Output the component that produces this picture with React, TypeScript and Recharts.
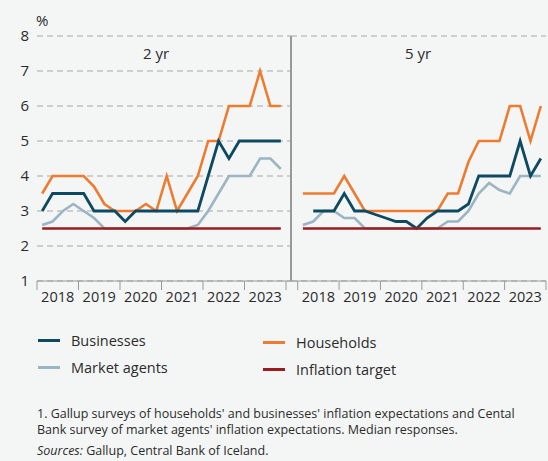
import { LineChart, Line, XAxis, YAxis, CartesianGrid } from 'recharts';

const years = ['2018', '2019', '2020', '2021', '2022', '2023'];
const yTicks = [1, 2, 3, 4, 5, 6, 7, 8];
const xTicks = [0, 4, 8, 12, 16, 20, 24];

// quarterly medians, 2018Q1-2023Q4
const businesses2yr = [3.0, 3.5, 3.5, 3.5, 3.5, 3.0, 3.0, 3.0, 2.7, 3.0, 3.0, 3.0, 3.0, 3.0, 3.0, 3.0, 4.0, 5.0, 4.5, 5.0, 5.0, 5.0, 5.0, 5.0];
const households2yr = [3.5, 4.0, 4.0, 4.0, 4.0, 3.7, 3.2, 3.0, 3.0, 3.0, 3.2, 3.0, 4.0, 3.0, 3.5, 4.0, 5.0, 5.0, 6.0, 6.0, 6.0, 7.0, 6.0, 6.0];
const market2yr = [2.6, 2.7, 3.0, 3.2, 3.0, 2.8, 2.5, 2.5, 2.5, 2.5, 2.5, 2.5, 2.5, 2.5, 2.5, 2.6, 3.0, 3.5, 4.0, 4.0, 4.0, 4.5, 4.5, 4.2];

const businesses5yr = [null, 3.0, 3.0, 3.0, 3.5, 3.0, 3.0, 2.9, 2.8, 2.7, 2.7, 2.5, 2.8, 3.0, 3.0, 3.0, 3.2, 4.0, 4.0, 4.0, 4.0, 5.0, 4.0, 4.5];
const households5yr = [3.5, 3.5, 3.5, 3.5, 4.0, 3.5, 3.0, 3.0, 3.0, 3.0, 3.0, 3.0, 3.0, 3.0, 3.5, 3.5, 4.4, 5.0, 5.0, 5.0, 6.0, 6.0, 5.0, 6.0];
const market5yr = [2.6, 2.7, 3.0, 3.0, 2.8, 2.8, 2.5, 2.5, 2.5, 2.5, 2.5, 2.5, 2.5, 2.5, 2.7, 2.7, 3.0, 3.5, 3.8, 3.6, 3.5, 4.0, 4.0, 4.0];

const target = [2.5, 2.5, 2.5, 2.5, 2.5, 2.5, 2.5, 2.5, 2.5, 2.5, 2.5, 2.5, 2.5, 2.5, 2.5, 2.5, 2.5, 2.5, 2.5, 2.5, 2.5, 2.5, 2.5, 2.5];

const series = [
  { key: 'market', name: 'Market agents', color: '#9bb5c3' },
  { key: 'households', name: 'Households', color: '#ee7b30' },
  { key: 'businesses', name: 'Businesses', color: '#0d4a62' },
  { key: 'target', name: 'Inflation target', color: '#9b1c20' },
];

const font = '"Open Sans", sans-serif';
const textColor = '#2b2b2b';
const axisColor = '#999';

function buildRows(b: (number | null)[], h: number[], m: number[], t: number[]) {
  return t.map((_, i) => ({
    x: i + 0.5,
    businesses: b[i],
    households: h[i],
    market: m[i],
    target: t[i],
  }));
}

const rows2yr = buildRows(businesses2yr, households2yr, market2yr, target);
const rows5yr = buildRows(businesses5yr, households5yr, market5yr, target);

const YearTick = (props: any) => {
  const { x, y, payload } = props;
  const idx = payload.value / 4;
  if (idx >= years.length) return null;
  return (
    <text x={x + 20.7} y={y} dy="0.71em" textAnchor="middle" fontSize={14.5} fontFamily={font} fill={textColor}>
      {years[idx]}
    </text>
  );
};

function Panel({ rows, left, width, first }: { rows: any[]; left: number; width: number; first: boolean }) {
  return (
    <div style={{ position: 'absolute', left, top: 0 }}>
      <LineChart width={width} height={310} data={rows} margin={{ top: 36, right: first ? 0 : 2, bottom: 0, left: 0 }}>
        <CartesianGrid horizontal vertical={false} stroke="#a6a6a6" strokeDasharray="6 4" />
        <XAxis
          type="number"
          dataKey="x"
          domain={[0, 24]}
          ticks={xTicks}
          height={29}
          tickSize={9}
          tickMargin={2}
          padding={first ? { left: 0, right: 5 } : { left: 6.7, right: 0 }}
          axisLine={{ stroke: axisColor }}
          tickLine={{ stroke: axisColor }}
          tick={<YearTick />}
          interval={0}
        />
        <YAxis
          type="number"
          domain={[1, 8]}
          ticks={yTicks}
          width={first ? 37 : 0}
          axisLine={false}
          tickLine={false}
          tick={first ? { fontSize: 15, fontFamily: font, fill: textColor } : false}
          interval={0}
        />
        {series.map((s) => (
          <Line
            key={s.key}
            type="linear"
            dataKey={s.key}
            stroke={s.color}
            strokeWidth={s.key === 'businesses' ? 2.8 : 2.6}
            dot={false}
            isAnimationActive={false}
          />
        ))}
      </LineChart>
    </div>
  );
}

const legendItems = [
  { key: 'businesses', left: 38, top: 330 },
  { key: 'market', left: 38, top: 357 },
  { key: 'households', left: 263, top: 332 },
  { key: 'target', left: 263, top: 359 },
];

export default function App() {
  return (
    <div
      style={{
        position: 'absolute',
        left: 0,
        top: 0,
        width: 548,
        height: 461,
        background: '#f4f6f6',
        fontFamily: font,
        color: textColor,
        overflow: 'hidden',
      }}
    >
      <div style={{ position: 'absolute', left: 36, top: 10, fontSize: 15, lineHeight: '20px' }}>%</div>
      <Panel rows={rows2yr} left={0} width={291} first />
      <Panel rows={rows5yr} left={291} width={257} first={false} />
      {/* panel divider */}
      <div style={{ position: 'absolute', left: 290, top: 36, width: 1.5, height: 245, background: axisColor }} />
      <div style={{ position: 'absolute', left: 125, top: 43, width: 62, textAlign: 'center', fontSize: 15, lineHeight: '20px' }}>
        2 yr
      </div>
      <div style={{ position: 'absolute', left: 387, top: 43, width: 62, textAlign: 'center', fontSize: 15, lineHeight: '20px' }}>
        5 yr
      </div>
      {legendItems.map((item) => {
        const s = series.find((x) => x.key === item.key)!;
        return (
          <div
            key={item.key}
            style={{ position: 'absolute', left: item.left, top: item.top, height: 20, display: 'flex', alignItems: 'center', fontSize: 14.5 }}
          >
            <span style={{ display: 'inline-block', width: 22, height: 3, background: s.color, marginRight: 11 }} />
            <span>{s.name}</span>
          </div>
        );
      })}
      <div style={{ position: 'absolute', left: 37, top: 406, width: 510, fontSize: 12.5, lineHeight: '16px', whiteSpace: 'nowrap' }}>
        1. Gallup surveys of households' and businesses' inflation expectations and Cental
        <br />
        Bank survey of market agents' inflation expectations. Median responses.
      </div>
      <div style={{ position: 'absolute', left: 37, top: 443, fontSize: 12.5, lineHeight: '16px' }}>
        <i>Sources:</i> Gallup, Central Bank of Iceland.
      </div>
    </div>
  );
}
